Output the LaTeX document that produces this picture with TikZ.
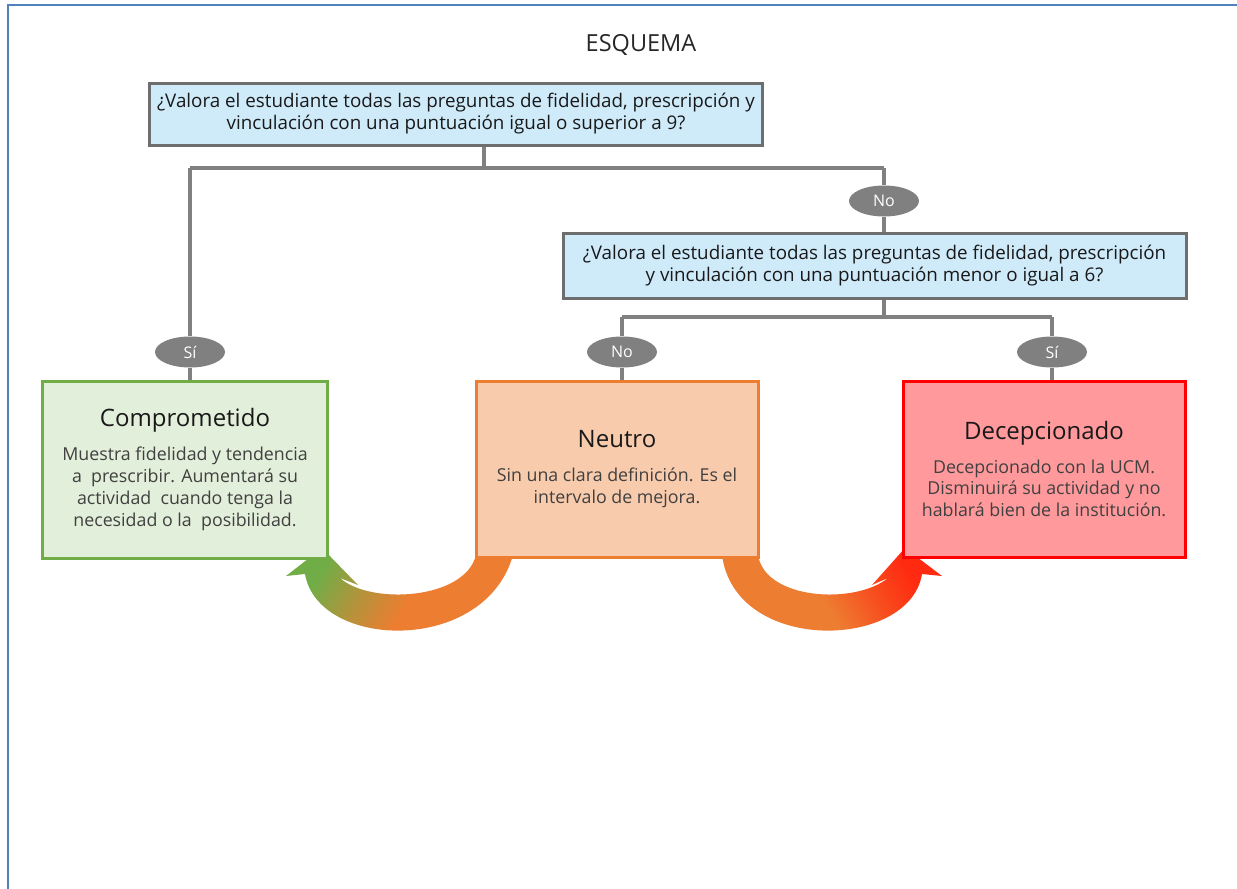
\documentclass[tikz,border=0pt]{standalone}
\usepackage{fontspec}
\setmainfont{Open Sans}
\usetikzlibrary{shapes.geometric}
\definecolor{qfill}{HTML}{CFEBFA}
\definecolor{qdraw}{HTML}{6E6E6E}
\definecolor{lgray}{HTML}{808080}
\definecolor{gfill}{HTML}{E2EFDA}
\definecolor{gdraw}{HTML}{70AD47}
\definecolor{ofill}{HTML}{F8CBAD}
\definecolor{odraw}{HTML}{ED7D31}
\definecolor{rfill}{HTML}{FF999B}
\definecolor{rdraw}{HTML}{FF0000}
\definecolor{rarrow}{HTML}{FF2A10}
\definecolor{framec}{HTML}{4F81BD}
\definecolor{bodytxt}{HTML}{404040}
\pgfdeclarehorizontalshading{gtoo}{100bp}{color(0bp)=(gdraw); color(27bp)=(gdraw); color(40bp)=(odraw!55!gdraw); color(52bp)=(odraw); color(100bp)=(odraw)}
\pgfdeclarehorizontalshading{otor}{100bp}{color(0bp)=(odraw); color(48bp)=(odraw); color(62bp)=(rarrow!60!odraw); color(73bp)=(rarrow); color(100bp)=(rarrow)}
\newcommand\myttl{\fontsize{24bp}{28bp}\selectfont\color{black!90}}
\begin{document}
\begin{tikzpicture}[x=1bp,y=-1bp,
  qbox/.style={draw=qdraw, fill=qfill, line width=3bp, align=center, inner sep=0pt,
    text=black!90, font=\fontsize{18.8bp}{22bp}\selectfont},
  resbox/.style={line width=3bp, align=center, inner sep=0pt, minimum width=282bp, minimum height=176bp,
    text=bodytxt, font=\fontsize{17.8bp}{21.8bp}\selectfont},
  tag/.style={ellipse, fill=lgray, text=white, minimum width=70bp, minimum height=31bp, inner sep=0pt,
    font=\fontsize{16bp}{18bp}\selectfont},
  conn/.style={draw=lgray, line width=3.5bp}
]
\useasboundingbox (0,0) rectangle (1237,889);
\draw[framec, line width=2.5bp] (8,889) -- (8,5) -- (1237,5);

\node[font=\fontsize{23.5bp}{26bp}\selectfont, text=black!85] (title) at (641,45) {ESQUEMA};

\node[qbox, minimum width=612bp, minimum height=62bp] (q1) at (456,114)
  {¿Valora el estudiante todas las preguntas de fidelidad, prescripción y\\
   vinculación con una puntuación igual o superior a 9?};
\node[qbox, minimum width=623bp, minimum height=65bp] (q2) at (874.5,265.5)
  {¿Valora el estudiante todas las preguntas de fidelidad, prescripción\\
   y vinculación con una puntuación menor o igual a 6?};

\node[tag] (si1) at (190,352) {Sí};
\node[tag] (no1) at (884,201) {No};
\node[tag] (no2) at (622,352) {No};
\node[tag] (si2) at (1052,352) {Sí};

\coordinate (j1) at (484,168);
\coordinate (j1l) at (190,168);
\coordinate (j1r) at (884,168);
\coordinate (j2) at (884,317);
\coordinate (j2l) at (622,317);
\coordinate (j2r) at (1052,317);

% curved arrows (drawn first, boxes cover tips)
\shade[shading=gtoo, shading angle=-30]
  (513,555) .. controls (485,655) and (318,650) .. (305,574) -- (286,576) -- (322,548)
  -- (358,585) -- (340,578) .. controls (370,605) and (465,600) .. (476,555) -- cycle;
\shade[shading=otor, shading angle=30]
  (722,555) .. controls (735,655) and (910,650) .. (922,574) -- (942,576) -- (905,548)
  -- (872,585) -- (888,578) .. controls (855,605) and (765,600) .. (758,555) -- cycle;

\node[resbox, draw=gdraw, fill=gfill, minimum width=284bp, minimum height=177bp] (comp) at (185,469.5)
  {\myttl Comprometido\\[12bp]
   Muestra fidelidad y tendencia\\
   a \ prescribir. Aumentará su\\ actividad \ cuando tenga la\\ necesidad o la \ posibilidad.};
\node[resbox, draw=odraw, fill=ofill] (neut) at (617,469)
  {\myttl Neutro\\[12bp]
   Sin una clara definición. Es el\\ intervalo de mejora.};
\node[resbox, draw=rdraw, fill=rfill] (dec) at (1044,469)
  {\myttl Decepcionado\\[12bp]
   Decepcionado con la UCM.\\ Disminuirá su actividad y no\\ hablará bien de la institución.};

% connectors
\draw[conn] (q1.south -| j1) -- (j1);
\draw[conn] (j1l) -- (j1r);
\draw[conn] (j1l) -- (si1.north);
\draw[conn] (si1.south) -- (si1.south |- comp.north);
\draw[conn] (j1r) -- (no1.north);
\draw[conn] (no1.south) -- (no1.south |- q2.north);
\draw[conn] (q2.south -| j2) -- (j2);
\draw[conn] (j2l) -- (j2r);
\draw[conn] (j2l) -- (no2.north);
\draw[conn] (no2.south) -- (no2.south |- neut.north);
\draw[conn] (j2r) -- (si2.north);
\draw[conn] (si2.south) -- (si2.south |- dec.north);
\end{tikzpicture}
\end{document}
